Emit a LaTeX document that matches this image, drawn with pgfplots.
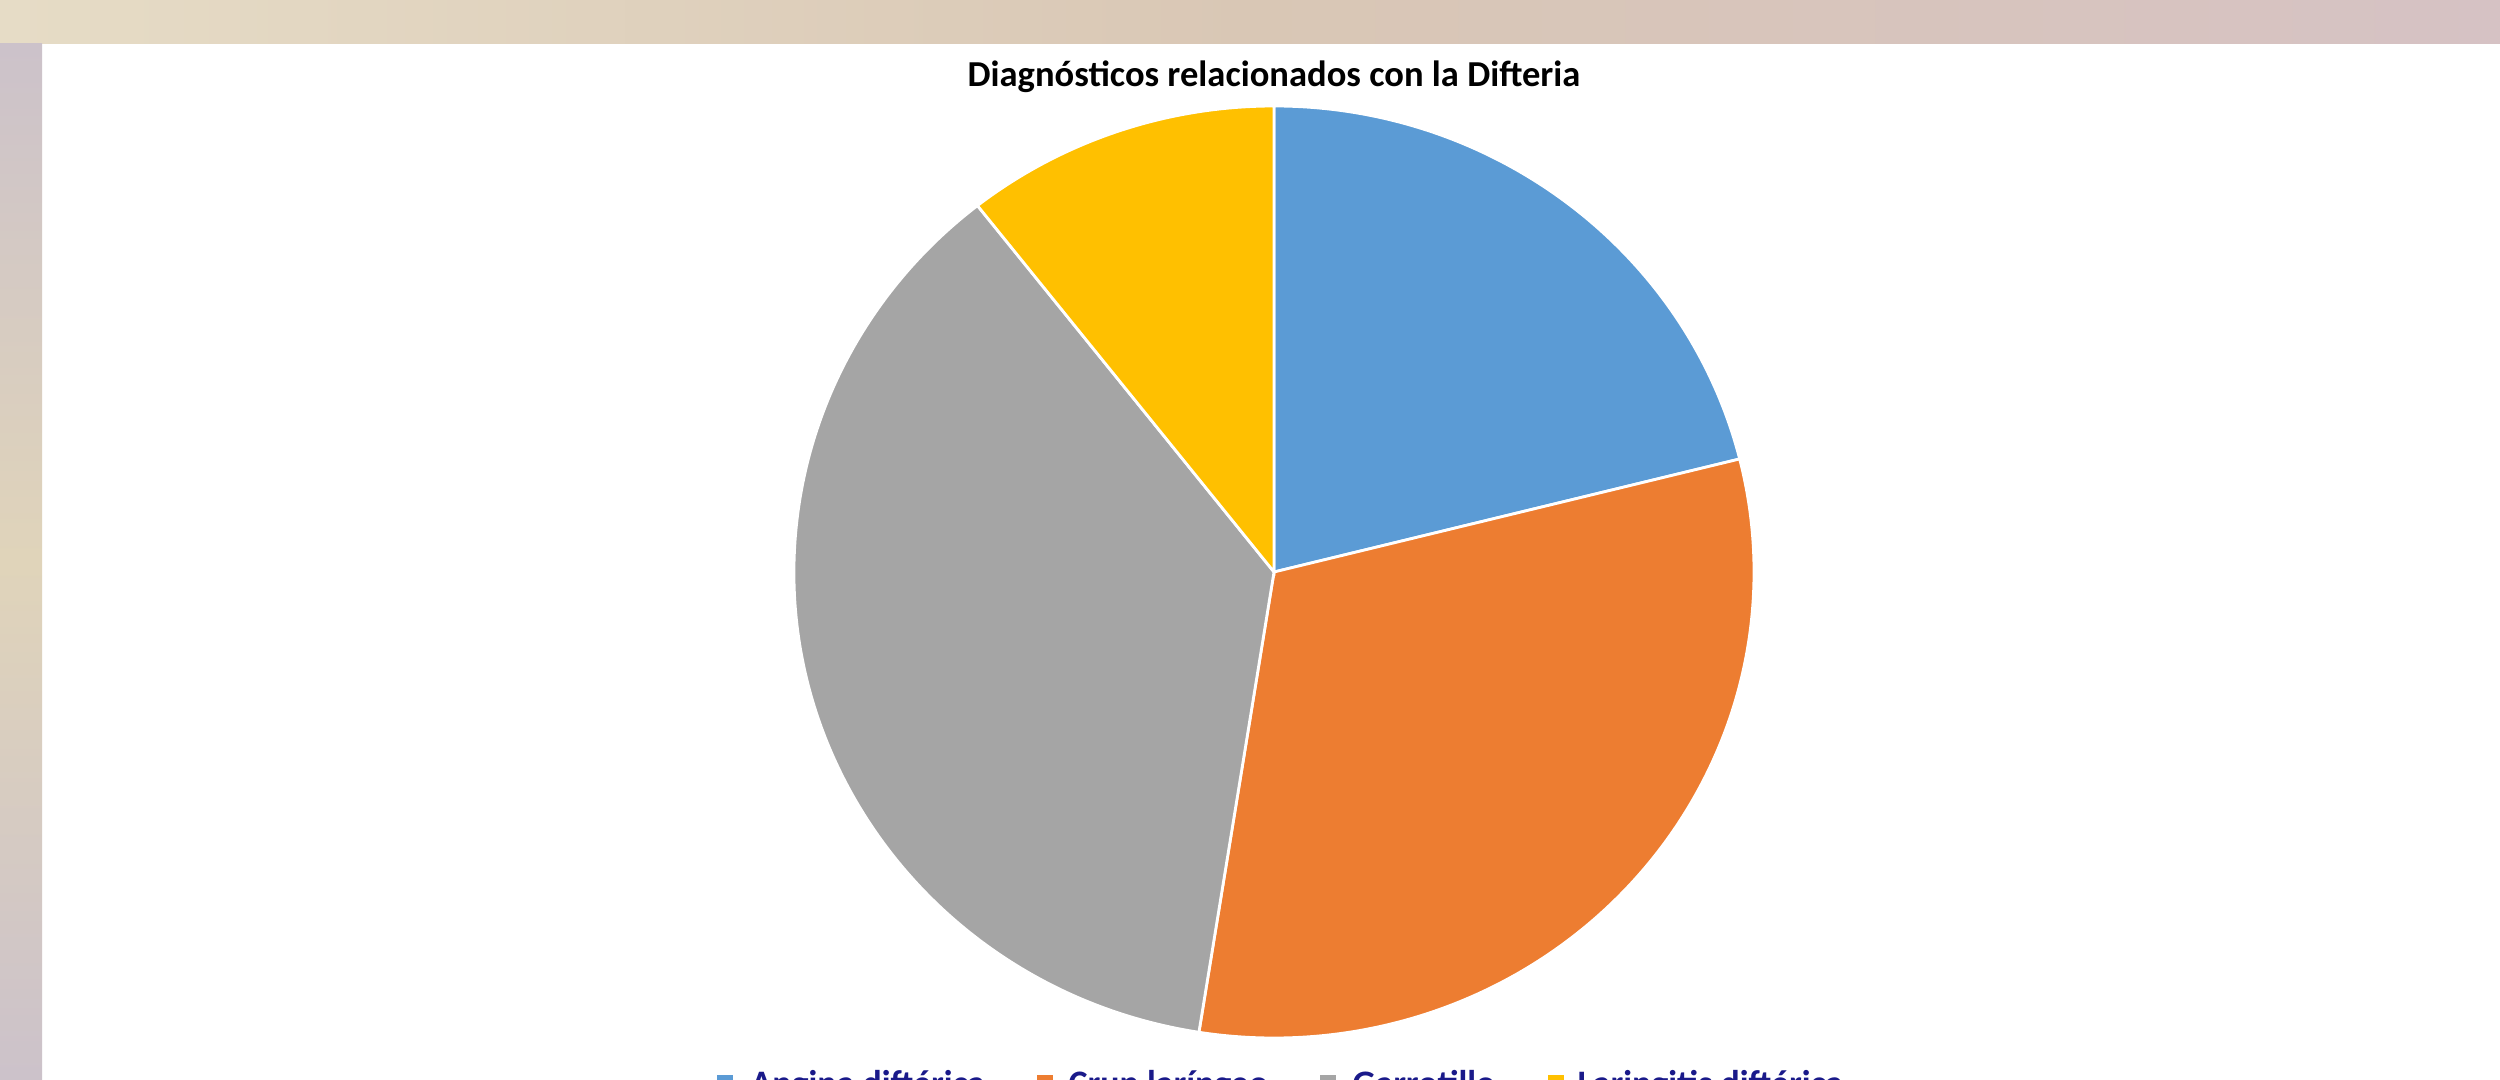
\documentclass[border=0pt]{standalone}
\usepackage{pgfplots}
\pgfplotsset{compat=1.18}
\usepackage{pgfplotstable}
\usepackage{fontspec}
\setmainfont{Carlito}
\definecolor{pieblue}{HTML}{5B9BD5}
\definecolor{pieorange}{HTML}{ED7D31}
\definecolor{piegray}{HTML}{A5A5A5}
\definecolor{pieyellow}{HTML}{FFC000}
\definecolor{legtext}{HTML}{1A1A8A}
\definecolor{bgA}{HTML}{E6DCC6}
\definecolor{bgB}{HTML}{D9C7B5}
\definecolor{bgC}{HTML}{D6C2C4}
\definecolor{bgD}{HTML}{CCC2CA}
\definecolor{bgE}{HTML}{E0D4BA}

\pgfplotstableread{
label value
Angina 21.1
Crup 31.4
Garrotillo 36.9
Laringitis 10.6
}\pietable

\begin{document}
\begin{tikzpicture}
\useasboundingbox (0,0) rectangle (25,10.79);
\clip (0,0) rectangle (25,10.79);
\fill[white] (0,0) rectangle (25,10.79);
% textured slide frame (approximated)
\shade[left color=bgA, right color=bgC, middle color=bgB] (0,10.35) rectangle (25,10.79);
\shade[top color=bgD, bottom color=bgD, middle color=bgE] (0,0) rectangle (0.42,10.35);

\pgfplotstablegetelem{0}{value}\of\pietable \let\vA\pgfplotsretval
\pgfplotstablegetelem{1}{value}\of\pietable \let\vB\pgfplotsretval
\pgfplotstablegetelem{2}{value}\of\pietable \let\vC\pgfplotsretval
\pgfplotstablegetelem{3}{value}\of\pietable \let\vD\pgfplotsretval
\pgfmathsetmacro\tot{\vA+\vB+\vC+\vD}
\pgfmathsetmacro\aA{90}
\pgfmathsetmacro\aB{\aA-360*\vA/\tot}
\pgfmathsetmacro\aC{\aB-360*\vB/\tot}
\pgfmathsetmacro\aD{\aC-360*\vC/\tot}
\pgfmathsetmacro\aE{\aD-360*\vD/\tot}

\begin{axis}[
  at={(12.74cm,5.07cm)}, anchor=center,
  scale only axis, width=9.6cm, height=9.32cm,
  xmin=-1, xmax=1, ymin=-1, ymax=1,
  hide axis, clip=false,
]
\filldraw[pieblue, draw=white, line width=0.8pt] (axis cs:0,0) -- (axis cs:{cos(\aA)},{sin(\aA)}) arc[start angle=\aA, end angle=\aB, x radius=4.8cm, y radius=4.66cm] -- cycle;
\filldraw[pieorange, draw=white, line width=0.8pt] (axis cs:0,0) -- (axis cs:{cos(\aB)},{sin(\aB)}) arc[start angle=\aB, end angle=\aC, x radius=4.8cm, y radius=4.66cm] -- cycle;
\filldraw[piegray, draw=white, line width=0.8pt] (axis cs:0,0) -- (axis cs:{cos(\aC)},{sin(\aC)}) arc[start angle=\aC, end angle=\aD, x radius=4.8cm, y radius=4.66cm] -- cycle;
\filldraw[pieyellow, draw=white, line width=0.8pt] (axis cs:0,0) -- (axis cs:{cos(\aD)},{sin(\aD)}) arc[start angle=\aD, end angle=\aE, x radius=4.8cm, y radius=4.66cm] -- cycle;
\end{axis}

% title
\node[anchor=base, inner sep=0pt, font=\fontsize{10.4}{12}\selectfont\bfseries] at (12.74,9.92) {Diagnósticos relacionados con la Difteria};

% legend (cut off by the picture's lower edge, as in the reference)
\begin{scope}[every node/.style={anchor=base west, inner sep=0pt, text=legtext, font=\fontsize{10.2}{12}\selectfont\bfseries}]
\fill[pieblue] (7.17,-0.13) rectangle (7.33,0.04);
\node at (7.50,-0.16) {Angina diftérica};
\fill[pieorange] (10.37,-0.13) rectangle (10.53,0.04);
\node at (10.68,-0.16) {Crup laríngeo};
\fill[piegray] (13.20,-0.13) rectangle (13.36,0.04);
\node at (13.52,-0.16) {Garrotillo};
\fill[pieyellow] (15.48,-0.13) rectangle (15.64,0.04);
\node at (15.77,-0.16) {Laringitis diftérica};
\end{scope}
\end{tikzpicture}
\end{document}
